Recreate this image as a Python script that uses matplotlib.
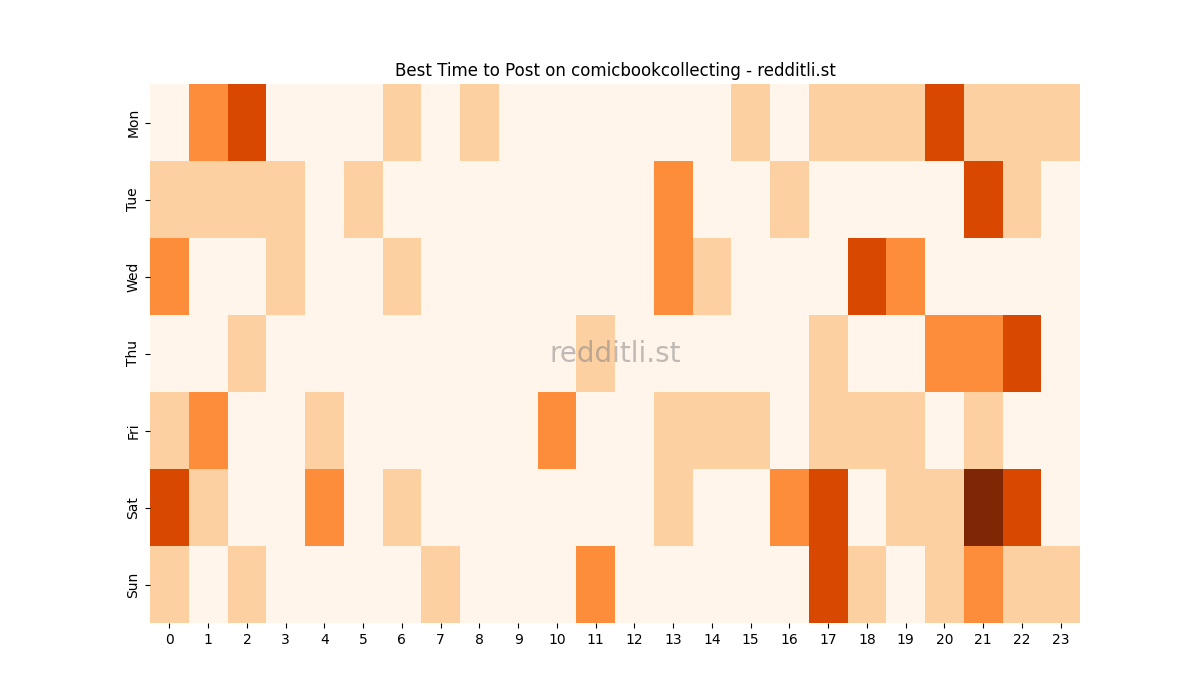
import matplotlib
matplotlib.use("Agg")
import matplotlib.pyplot as plt
import seaborn as sns
import numpy as np

days = ["Mon", "Tue", "Wed", "Thu", "Fri", "Sat", "Sun"]
hours = list(range(24))

# activity level per hour (0-4)
mon = [0, 2, 3, 0, 0, 0, 1, 0, 1, 0, 0, 0, 0, 0, 0, 1, 0, 1, 1, 1, 3, 1, 1, 1]
tue = [1, 1, 1, 1, 0, 1, 0, 0, 0, 0, 0, 0, 0, 2, 0, 0, 1, 0, 0, 0, 0, 3, 1, 0]
wed = [2, 0, 0, 1, 0, 0, 1, 0, 0, 0, 0, 0, 0, 2, 1, 0, 0, 0, 3, 2, 0, 0, 0, 0]
thu = [0, 0, 1, 0, 0, 0, 0, 0, 0, 0, 0, 1, 0, 0, 0, 0, 0, 1, 0, 0, 2, 2, 3, 0]
fri = [1, 2, 0, 0, 1, 0, 0, 0, 0, 0, 2, 0, 0, 1, 1, 1, 0, 1, 1, 1, 0, 1, 0, 0]
sat = [3, 1, 0, 0, 2, 0, 1, 0, 0, 0, 0, 0, 0, 1, 0, 0, 2, 3, 0, 1, 1, 4, 3, 0]
sun = [1, 0, 1, 0, 0, 0, 0, 1, 0, 0, 0, 2, 0, 0, 0, 0, 0, 3, 1, 0, 1, 2, 1, 1]

grid = np.array([mon, tue, wed, thu, fri, sat, sun])

fig, ax = plt.subplots(figsize=(12, 7), dpi=100)
sns.heatmap(grid, cmap="Oranges", cbar=False, ax=ax,
            xticklabels=hours, yticklabels=days)
ax.set_yticklabels(days, rotation=90, va="center")
ax.set_xticklabels(hours, rotation=0)
ax.set_title("Best Time to Post on comicbookcollecting - redditli.st")
ax.text(0.5, 0.5, "redditli.st", transform=ax.transAxes, ha="center",
        va="center", fontsize=20, color="gray", alpha=0.5)

plt.savefig("out.png")
